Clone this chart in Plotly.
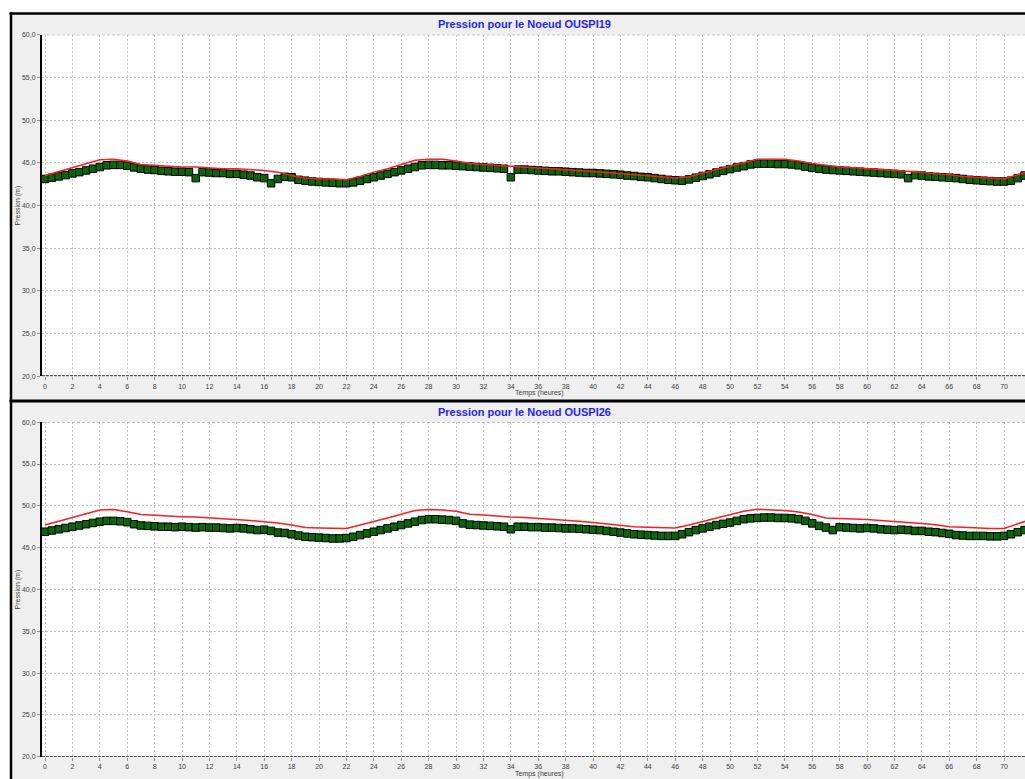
import numpy as np
import plotly.graph_objects as go

# ---- data -----------------------------------------------------------------
# simulated pressure (hourly) and measured pressure (every 30 min), in metres
HOURS_SIM = np.arange(0, 73, 1.0)
HOURS_MES = np.arange(0, 72, 0.5)

OUSPI19_SIM = [
    43.5, 43.95, 44.4, 44.9, 45.35, 45.4, 45.2, 44.8, 44.7, 44.6,
    44.5, 44.5, 44.4, 44.3, 44.3, 44.2, 44.1, 43.9, 43.5, 43.2,
    43.1, 43.1, 43.0, 43.4, 43.9, 44.3, 44.8, 45.3, 45.4, 45.4,
    45.2, 44.9, 44.8, 44.7, 44.6, 44.5, 44.4, 44.3, 44.2, 44.1,
    43.95, 43.85, 43.7, 43.6, 43.5, 43.35, 43.2, 43.35, 43.8, 44.2,
    44.6, 45.0, 45.4, 45.4, 45.4, 45.2, 44.9, 44.7, 44.5, 44.4,
    44.3, 44.2, 44.1, 44.0, 43.9, 43.7, 43.6, 43.4, 43.3, 43.2,
    43.1, 43.6, 44.1,
]

OUSPI19_MES = [
    43.1, 43.25, 43.4, 43.55, 43.75, 43.9, 44.1, 44.3, 44.5, 44.7,
    44.75, 44.75, 44.65, 44.45, 44.3, 44.2, 44.15, 44.05, 44.0, 43.95,
    43.95, 43.9, 43.2, 43.9, 43.85, 43.8, 43.8, 43.7, 43.7, 43.6,
    43.5, 43.3, 43.2, 42.6, 43.1, 43.35, 43.3, 43.0, 42.9, 42.8,
    42.75, 42.7, 42.65, 42.6, 42.6, 42.7, 42.9, 43.1, 43.3, 43.5,
    43.7, 43.9, 44.1, 44.3, 44.5, 44.7, 44.75, 44.75, 44.7, 44.7,
    44.65, 44.6, 44.55, 44.5, 44.45, 44.4, 44.35, 44.3, 43.3, 44.2,
    44.2, 44.15, 44.1, 44.05, 44.0, 44.0, 43.95, 43.9, 43.85, 43.8,
    43.8, 43.75, 43.7, 43.65, 43.6, 43.5, 43.45, 43.35, 43.3, 43.2,
    43.1, 43.0, 42.95, 42.9, 43.05, 43.25, 43.45, 43.65, 43.85, 44.05,
    44.25, 44.45, 44.6, 44.8, 44.9, 44.9, 44.9, 44.85, 44.85, 44.8,
    44.7, 44.55, 44.4, 44.3, 44.2, 44.15, 44.1, 44.05, 44.0, 43.95,
    43.9, 43.85, 43.8, 43.75, 43.7, 43.65, 43.2, 43.55, 43.5, 43.4,
    43.35, 43.3, 43.25, 43.2, 43.1, 43.0, 42.95, 42.9, 42.85, 42.8,
    42.8, 42.9, 43.2, 43.5,
]

OUSPI26_SIM = [
    47.7, 48.15, 48.6, 49.05, 49.5, 49.55, 49.3, 48.95, 48.85, 48.75,
    48.7, 48.65, 48.55, 48.45, 48.4, 48.25, 48.1, 47.95, 47.7, 47.4,
    47.35, 47.3, 47.3, 47.7, 48.1, 48.55, 49.0, 49.45, 49.55, 49.5,
    49.35, 49.0, 48.9, 48.75, 48.65, 48.6, 48.5, 48.4, 48.3, 48.15,
    48.0, 47.85, 47.65, 47.5, 47.45, 47.4, 47.35, 47.7, 48.1, 48.5,
    48.95, 49.35, 49.6, 49.5, 49.45, 49.25, 48.95, 48.55, 48.5, 48.45,
    48.35, 48.25, 48.15, 48.0, 47.9, 47.75, 47.5, 47.45, 47.35, 47.3,
    47.3, 47.8, 48.4,
]

OUSPI26_MES = [
    46.9, 47.05, 47.2, 47.35, 47.5, 47.65, 47.8, 47.95, 48.1, 48.2,
    48.2, 48.15, 48.05, 47.8, 47.65, 47.6, 47.55, 47.5, 47.5, 47.45,
    47.5, 47.45, 47.4, 47.45, 47.4, 47.4, 47.35, 47.3, 47.35, 47.3,
    47.2, 47.1, 47.15, 47.0, 46.8, 46.75, 46.6, 46.45, 46.3, 46.25,
    46.2, 46.15, 46.1, 46.1, 46.15, 46.3, 46.5, 46.7, 46.9, 47.1,
    47.3, 47.5, 47.7, 47.9, 48.1, 48.3, 48.4, 48.4, 48.35, 48.3,
    48.2, 47.9, 47.75, 47.7, 47.65, 47.6, 47.55, 47.5, 47.2, 47.5,
    47.5, 47.45, 47.45, 47.4, 47.4, 47.35, 47.3, 47.3, 47.25, 47.2,
    47.15, 47.1, 47.0, 46.9, 46.8, 46.7, 46.6, 46.55, 46.5, 46.45,
    46.4, 46.4, 46.4, 46.6, 46.85, 47.1, 47.3, 47.5, 47.7, 47.85,
    48.0, 48.2, 48.4, 48.5, 48.55, 48.6, 48.6, 48.55, 48.55, 48.5,
    48.4, 48.2, 47.9, 47.6, 47.4, 47.1, 47.45, 47.4, 47.35, 47.3,
    47.35, 47.3, 47.2, 47.15, 47.1, 47.15, 47.1, 47.0, 47.0, 46.9,
    46.85, 46.75, 46.65, 46.5, 46.45, 46.4, 46.4, 46.4, 46.35, 46.35,
    46.4, 46.6, 46.85, 47.1,
]

NODES = ["OUSPI19", "OUSPI26"]
X_TICKS = list(range(0, 71, 2))
Y_TICKS = list(range(20, 61, 5))

# ---- page geometry (pixels) ---------------------------------------------
W, H = 1025, 779


def fx(p):
    return p / W


def fy(p):
    return 1 - p / H


PLOT_LEFT = 42
PANELS = [
    # panel top, plot top, plot bottom, title y, axis-title y
    dict(top=10, ptop=31, pbot=375.5, title=20.5, xtitle=393),
    dict(top=401, ptop=422, pbot=759.5, title=412, xtitle=777),
]

FONT = "Liberation Sans, Arial, sans-serif"
GRID = "#c2c2c2"
TICKFONT = dict(family=FONT, size=7, color="#404040")

fig = go.Figure()

series = [(OUSPI19_SIM, OUSPI19_MES), (OUSPI26_SIM, OUSPI26_MES)]
for i, (sim, mes) in enumerate(series):
    xa = "x" if i == 0 else "x2"
    ya = "y" if i == 0 else "y2"
    fig.add_trace(go.Scatter(
        x=HOURS_MES, y=mes, mode="markers", xaxis=xa, yaxis=ya,
        marker=dict(symbol="square", size=7.5, color="#0b650b",
                    line=dict(color="#000000", width=1)),
        showlegend=False, hoverinfo="skip",
    ))
    fig.add_trace(go.Scatter(
        x=HOURS_SIM, y=sim, mode="lines", xaxis=xa, yaxis=ya,
        line=dict(color="#ff1c1c", width=1.5),
        showlegend=False, hoverinfo="skip",
    ))

shapes = []
annotations = []
for i, p in enumerate(PANELS):
    # grey panel and white plotting area
    shapes.append(dict(type="rect", xref="paper", yref="paper",
                       x0=fx(11), x1=fx(1040), y0=fy(p["top"]), y1=fy(p["top"] + 420),
                       fillcolor="#efefef", line=dict(width=0), layer="below"))
    shapes.append(dict(type="rect", xref="paper", yref="paper",
                       x0=fx(PLOT_LEFT), x1=fx(1040), y0=fy(p["ptop"]), y1=fy(p["pbot"]),
                       fillcolor="#ffffff", line=dict(width=0), layer="below"))
    ya = "y" if i == 0 else "y2"
    # dashed frame at the top and bottom of the plotting area
    shapes.append(dict(type="line", xref="paper", yref=ya,
                       x0=fx(PLOT_LEFT), x1=1, y0=60, y1=60,
                       line=dict(color="#8a8a8a", width=1, dash="3px,2px")))
    shapes.append(dict(type="line", xref="paper", yref=ya,
                       x0=fx(PLOT_LEFT), x1=1, y0=20, y1=20,
                       line=dict(color="#202020", width=1.5, dash="3px,1px")))

    annotations.append(dict(
        text="<b>Pression pour le Noeud %s</b>" % NODES[i],
        xref="paper", yref="paper", x=fx(524), y=fy(p["title"]),
        xanchor="center", yanchor="middle", showarrow=False,
        font=dict(family=FONT, size=11, color="#1e1eff")))
    annotations.append(dict(
        text="Temps (heures)", xref="paper", yref="paper",
        x=fx(539), y=fy(p["xtitle"]), xanchor="center", yanchor="middle",
        showarrow=False, font=dict(family=FONT, size=7, color="#404040")))
    annotations.append(dict(
        text="Pression (m)", xref="paper", yref="paper",
        x=fx(18), y=fy((p["ptop"] + p["pbot"]) / 2), textangle=-90,
        xanchor="center", yanchor="middle", showarrow=False,
        font=dict(family=FONT, size=7, color="#404040")))

# black frame lines
shapes.append(dict(type="line", xref="paper", yref="paper",
                   x0=fx(9.5), x1=fx(1040), y0=fy(9.5), y1=fy(9.5),
                   line=dict(color="#000000", width=2.5)))
shapes.append(dict(type="line", xref="paper", yref="paper",
                   x0=fx(11), x1=fx(11), y0=fy(8.5), y1=fy(800),
                   line=dict(color="#000000", width=2.5)))
shapes.append(dict(type="line", xref="paper", yref="paper",
                   x0=fx(9.5), x1=fx(1040), y0=fy(400.5), y1=fy(400.5),
                   line=dict(color="#000000", width=3)))

xaxis_common = dict(
    range=[-0.22, 71.53], tickvals=X_TICKS, ticktext=[str(t) for t in X_TICKS],
    showgrid=True, gridcolor=GRID, gridwidth=1, griddash="2px,2px",
    ticks="outside", ticklen=3, tickcolor="#909090", tickfont=TICKFONT,
    showline=False, zeroline=False, fixedrange=True,
)
yaxis_common = dict(
    range=[20, 60], tickvals=Y_TICKS, tickformat=".1f",
    showgrid=True, gridcolor=GRID, gridwidth=1, griddash="2px,2px",
    ticks="outside", ticklen=3, tickcolor="#909090", tickfont=TICKFONT,
    showline=True, linecolor="#000000", linewidth=2,
    zeroline=False, fixedrange=True,
)

fig.update_layout(
    width=W, height=H,
    margin=dict(l=0, r=0, t=0, b=0),
    paper_bgcolor="#ffffff", plot_bgcolor="#ffffff",
    separators=", ",
    showlegend=False,
    xaxis=dict(xaxis_common, domain=[fx(PLOT_LEFT), 1], anchor="y"),
    yaxis=dict(yaxis_common, domain=[fy(PANELS[0]["pbot"]), fy(PANELS[0]["ptop"])], anchor="x"),
    xaxis2=dict(xaxis_common, domain=[fx(PLOT_LEFT), 1], anchor="y2"),
    yaxis2=dict(yaxis_common, domain=[fy(PANELS[1]["pbot"]), fy(PANELS[1]["ptop"])], anchor="x2"),
    shapes=shapes,
    annotations=annotations,
)

fig.write_html("out.html")
